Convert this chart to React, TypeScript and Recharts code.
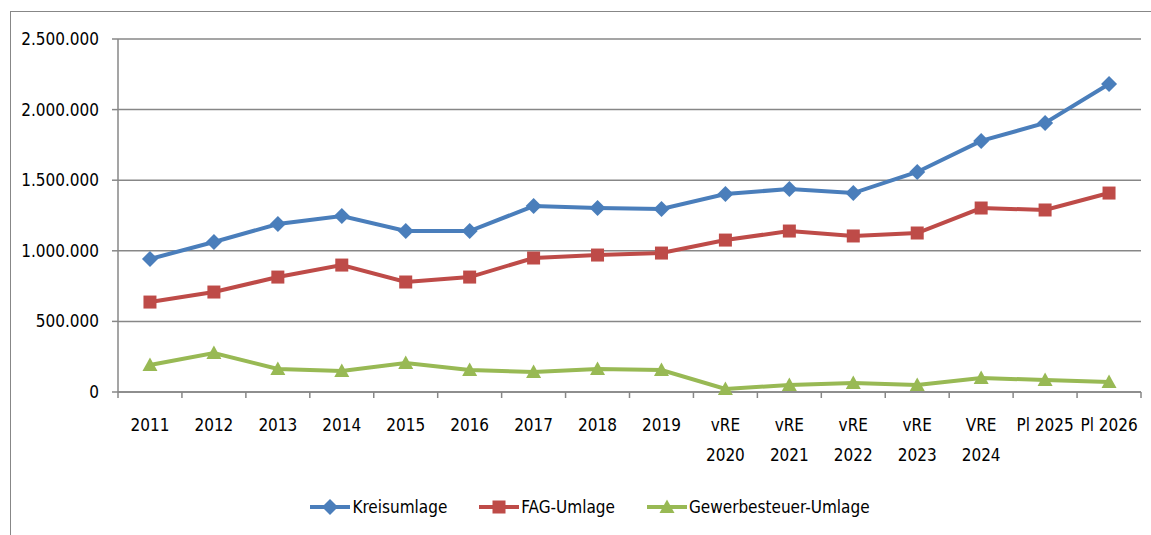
import React from "react";
import { LineChart, Line, XAxis, YAxis, CartesianGrid, Legend } from "recharts";

const categories = [
  "2011", "2012", "2013", "2014", "2015", "2016", "2017", "2018", "2019",
  "vRE\n2020", "vRE\n2021", "vRE\n2022", "vRE\n2023", "VRE\n2024", "Pl 2025", "Pl 2026",
];
const kreisumlage = [
  942000, 1062000, 1190000, 1246000, 1140000, 1140000, 1317000, 1303000, 1296000,
  1402000, 1438000, 1409000, 1558000, 1778000, 1905000, 2181000,
];
const fagUmlage = [
  637000, 708000, 814000, 899000, 779000, 814000, 949000, 970000, 984000,
  1076000, 1140000, 1105000, 1126000, 1303000, 1289000, 1409000,
];
const gewerbesteuerUmlage = [
  191000, 276000, 163000, 149000, 205000, 156000, 142000, 163000, 156000,
  21000, 50000, 64000, 50000, 99000, 85000, 71000,
];
const yTicks = [0, 500000, 1000000, 1500000, 2000000, 2500000];

const data = categories.map((c, i) => ({
  name: c,
  kreis: kreisumlage[i],
  fag: fagUmlage[i],
  gew: gewerbesteuerUmlage[i],
}));

const FONT = "'Liberation Sans Narrow', 'Arial Narrow', 'DejaVu Sans Condensed', sans-serif";
const GRAY = "#878787";
const BLUE = "#4a7ebb";
const RED = "#be4b48";
const GREEN = "#98b954";
const BAND = (1141 - 118) / categories.length;

const fmt = (v: number) => v.toLocaleString("de-DE");

const Diamond = (p: any) => {
  const { cx, cy, fill } = p;
  if (cx == null || cy == null) return null;
  const r = 8;
  return <path d={`M${cx},${cy - r}L${cx + r},${cy}L${cx},${cy + r}L${cx - r},${cy}Z`} fill={fill} />;
};
const Square = (p: any) => {
  const { cx, cy, fill } = p;
  if (cx == null || cy == null) return null;
  return <rect x={cx - 6.5} y={cy - 6.5} width={13} height={13} fill={fill} />;
};
const Triangle = (p: any) => {
  const { cx, cy, fill } = p;
  if (cx == null || cy == null) return null;
  return <path d={`M${cx},${cy - 7.5}L${cx + 7.5},${cy + 6}L${cx - 7.5},${cy + 6}Z`} fill={fill} />;
};

const XTick = (p: any) => {
  const { x, y, payload, index } = p;
  const lines = String(payload.value).split("\n");
  const axisY = y - 8;
  return (
    <g>
      <line x1={x - BAND / 2} x2={x - BAND / 2} y1={axisY} y2={axisY + 6} stroke={GRAY} strokeWidth={1.5} />
      {index === categories.length - 1 && (
        <line x1={x + BAND / 2} x2={x + BAND / 2} y1={axisY} y2={axisY + 6} stroke={GRAY} strokeWidth={1.5} />
      )}
      <text x={x} y={axisY + 39} textAnchor="middle" fontSize={17} fill="#000" fontFamily={FONT}>
        {lines.map((l, i) => (
          <tspan key={i} x={x} dy={i === 0 ? 0 : 30}>{l}</tspan>
        ))}
      </text>
    </g>
  );
};

const legendItems = [
  { label: "Kreisumlage", color: BLUE, Shape: Diamond },
  { label: "FAG-Umlage", color: RED, Shape: Square },
  { label: "Gewerbesteuer-Umlage", color: GREEN, Shape: Triangle },
];

const LegendContent = () => (
  <div style={{ display: "flex", justifyContent: "center", gap: 32, fontFamily: FONT, fontSize: 17, marginLeft: 39 }}>
    {legendItems.map(({ label, color, Shape }) => (
      <div key={label} style={{ display: "flex", alignItems: "center" }}>
        <svg width={40} height={20}>
          <line x1={0} x2={40} y1={10} y2={10} stroke={color} strokeWidth={4} />
          <Shape cx={20} cy={10} fill={color} />
        </svg>
        <span style={{ marginLeft: 2 }}>{label}</span>
      </div>
    ))}
  </div>
);

export default function App() {
  return (
    <div style={{ position: "absolute", left: 0, top: 0, width: 1151, height: 535, overflow: "hidden", background: "#fff" }}>
      <div style={{ position: "absolute", left: 10, top: 11, width: 3000, height: 3000, border: `1.5px solid ${GRAY}` }} />
      <div style={{ position: "absolute", left: 0, top: 0 }}>
        <LineChart width={1151} height={535} data={data} margin={{ top: 39, right: 10, left: 0, bottom: 18 }}>
          <CartesianGrid vertical={false} stroke={GRAY} strokeWidth={1.5} />
          <XAxis
            dataKey="name"
            interval={0}
            stroke={GRAY}
            strokeWidth={1.5}
            tickLine={false}
            tick={<XTick />}
            height={105}
            padding={{ left: BAND / 2, right: BAND / 2 }}
          />
          <YAxis
            domain={[0, 2500000]}
            ticks={yTicks}
            tickFormatter={fmt}
            width={118}
            stroke={GRAY}
            strokeWidth={1.5}
            tickSize={6}
            tickMargin={13}
            tick={{ fill: "#000", fontSize: 17, fontFamily: FONT }}
          />
          <Legend content={<LegendContent />} verticalAlign="bottom" />
          <Line dataKey="kreis" stroke={BLUE} strokeWidth={4} dot={<Diamond fill={BLUE} />} isAnimationActive={false} />
          <Line dataKey="fag" stroke={RED} strokeWidth={4} dot={<Square fill={RED} />} isAnimationActive={false} />
          <Line dataKey="gew" stroke={GREEN} strokeWidth={4} dot={<Triangle fill={GREEN} />} isAnimationActive={false} />
        </LineChart>
      </div>
    </div>
  );
}
